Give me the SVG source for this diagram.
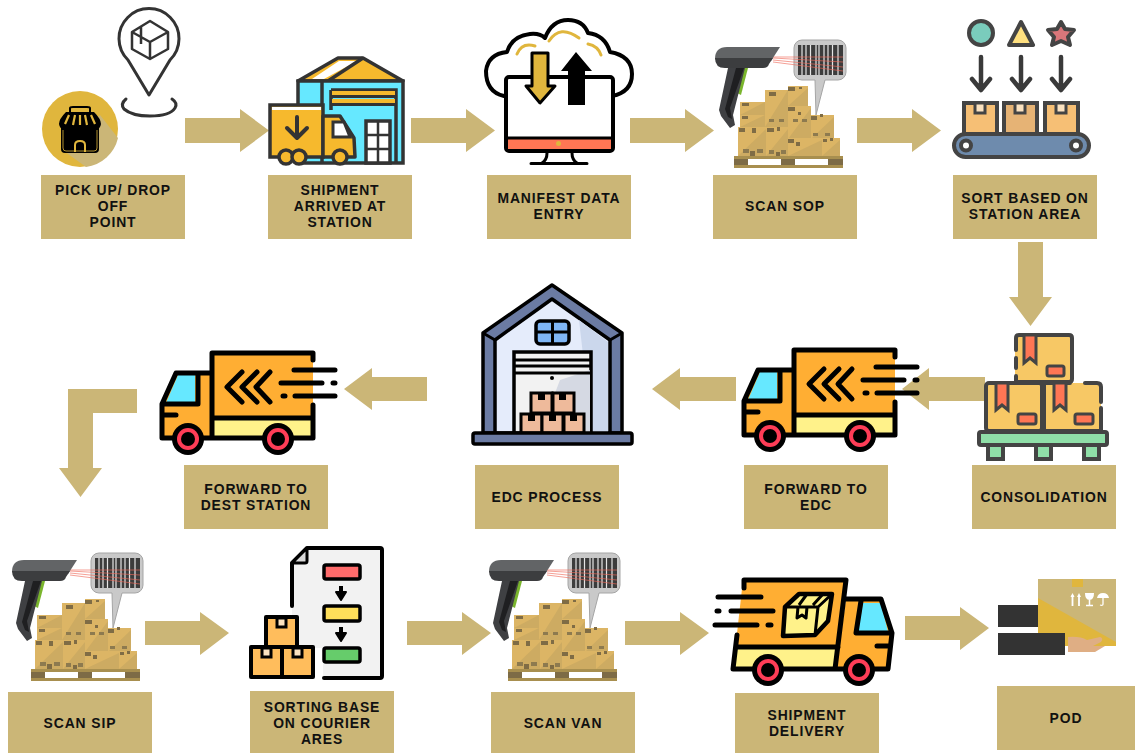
<svg xmlns="http://www.w3.org/2000/svg" width="1135" height="753" viewBox="0 0 1135 753">
<style>
.lb{fill:#cbb677}
.ar{fill:#cbb677}
text{font-family:"Liberation Sans",Arial,sans-serif;font-weight:700;font-size:13.900px;letter-spacing:.9px;fill:#111;text-anchor:middle}
.k{stroke:#000;stroke-linecap:round;stroke-linejoin:round;fill:none}
.g{stroke:#444;stroke-linecap:round;stroke-linejoin:round}
.d{stroke:#3a3a3a;stroke-linecap:round;stroke-linejoin:round;fill:none}
.bx{fill:#dcb565}
.sh{fill:#cdab62}
.tp{fill:#7f6c45}
</style>
<defs>
<g id="scanner">
<g id="boxes">
<rect class="bx" x="37" y="615" width="25" height="13"/><path class="sh" d="M37 628L62 615V628Z"/>
<rect class="bx" x="37" y="628" width="25" height="12"/><path class="sh" d="M37 640L62 628V640Z"/>
<rect class="bx" x="62" y="603" width="23" height="37"/><path class="sh" d="M62 640L85 603V640Z"/>
<rect class="bx" x="85" y="599" width="20" height="20"/><path class="sh" d="M85 619L105 601V619Z"/>
<rect class="bx" x="85" y="619" width="23" height="33"/><path class="sh" d="M85 652L108 621V652Z"/>
<rect class="bx" x="108" y="628" width="23" height="24"/><path class="sh" d="M108 652L131 630V652Z"/>
<rect class="bx" x="35" y="640" width="28" height="29"/><path class="sh" d="M35 669L63 642V669Z"/>
<rect class="bx" x="63" y="640" width="22" height="29"/><path class="sh" d="M63 669L85 642V669Z"/>
<rect class="bx" x="85" y="651" width="34" height="18"/><path class="sh" d="M85 669L119 653V669Z"/>
<rect class="bx" x="119" y="651" width="18" height="18"/><path class="sh" d="M119 669L137 653V669Z"/>
<path class="tp" d="M39 616h7v3h-7zM39 629h6v3h-6zM66 605h7v4h-7zM85 600h7v4h-7zM85 620h7v4h-7zM108 629h6v4h-6zM36 641h6v4h-6zM64 641h7v4h-7zM85 652h6v4h-6zM120 652h4v3h-4zM47 664h5v5h-5zM73 665h4v4h-4zM93 655h4v4h-4zM127 651h3v3h-3zM49 641h4v5h-4zM74 640h3v4h-3zM96 600h3v2h-3zM95 625h3v3h-3zM117 627h3v3h-3z"/>
<path d="M40 662h6v4h-6zM54 662h6v4h-6zM66 663h5v4h-5zM78 663h5v4h-5zM90 632h5v3h-5zM99 632h5v3h-5zM110 646h5v3h-5zM122 646h5v3h-5zM66 632h5v3h-5zM76 632h5v3h-5z" fill="#8d7a4f"/>
<rect x="31" y="669" width="109" height="3" fill="#a88f4f"/>
<rect x="31" y="678" width="109" height="3" fill="#a88f4f"/>
<rect x="31" y="672" width="14" height="6" fill="#7d6b46"/>
<rect x="78" y="672" width="14" height="6" fill="#7d6b46"/>
<rect x="125" y="672" width="15" height="6" fill="#7d6b46"/>
</g>
<path d="M91 561a8 8 0 0 1 8-8h36a8 8 0 0 1 8 8v24a8 8 0 0 1-8 8h-13l-9 35-1-35H99a8 8 0 0 1-8-8Z" fill="#c9c9c9" stroke="#a5a5a5"/>
<path d="M95 558h45v30H95z" fill="#3c3c3c"/>
<path d="M99 558v30M103 558v30M107.500 558v30M113 558v30M116 558v30M121 558v30M125 558v30M129.500 558v30M135 558v30" stroke="#e4e4e4" stroke-width="1.200"/>
<path d="M70 570L140 570M70 571L140 575M70 573L140 580M70 575L140 584" stroke="#ef6a5a" stroke-width=".8" fill="none" opacity=".8"/>
<path d="M45 581L38 608L34 606L41 581Z" fill="#7ab52d"/>
<path d="M25 581H42L30 628L32 638L27 641L18 629L16 623Z" fill="#3f4043"/>
<path d="M33 581H41L27 621L29 632L25 630L22 622Z" fill="#1f1f21"/>
<path d="M12 572Q12 560 24 560H77L68 574H15Z" fill="#626466"/>
<path d="M12 571H70L66 577Q65 581 60 581H22Q12 581 12 571Z" fill="#3c3d3f"/>
</g>
<g id="truck">
<path d="M213 353H313V438H213Z" fill="#ffae33"/>
<path d="M213 420H312V438H213Z" fill="#fff28a"/>
<path d="M162 438V404L176 373H213V438Z" fill="#ffae33"/>
<path d="M166 403L178 375H195V403Z" fill="#66e8ff"/>
<path class="k" stroke-width="5" d="M212 373V353H313V360M313 405V438H162V404L176 373H212V438M213 418H313M162 404H198V373M162 415H176"/>
<path class="k" stroke-width="5" d="M242 372L227 387L242 402M257 372L242 387L257 402M270 372L256 387L270 402"/>
<path class="k" stroke-width="5" d="M294 370H335M281 383H322M333 383H335M283 396H285M295 396H335"/>
<circle cx="188" cy="439" r="16" fill="#000"/><circle cx="188" cy="439" r="11" fill="#ff3d57"/><circle cx="188" cy="439" r="7" fill="#000"/>
<circle cx="278" cy="439" r="16" fill="#000"/><circle cx="278" cy="439" r="11" fill="#ff3d57"/><circle cx="278" cy="439" r="7" fill="#000"/>
</g>
</defs>
<g id="connectors">
<path class="ar" d="M185 118H240V109L269 130.500L240 152V143H185Z"/>
<path class="ar" d="M411 118H466V109L495 130.500L466 152V143H411Z"/>
<path class="ar" d="M630 118H685V109L714 130.500L685 152V143H630Z"/>
<path class="ar" d="M857 118H912V109L941 130.500L912 152V143H857Z"/>
<path class="ar" d="M1018 242H1043V297H1052L1030.500 326L1009 297H1018Z"/>
<path class="ar" d="M985 377H929V368L902 389L929 410V401H985Z"/>
<path class="ar" d="M736 377H680V368L652 389L680 410V401H736Z"/>
<path class="ar" d="M427 377H372V368L344 389L372 410V401H427Z"/>
<path class="ar" d="M137 389H68V468H59L80.500 497L102 468H93V413H137Z"/>
<path class="ar" d="M145 621H200V612L229 633L200 655V645H145Z"/>
<path class="ar" d="M407 621H462V612L491 633L462 655V645H407Z"/>
<path class="ar" d="M625 621H680V612L709 633L680 655V645H625Z"/>
<path class="ar" d="M905 616H960V607L989 628L960 650V640H905Z"/>
</g>
<g id="n-pickup">
<circle cx="80" cy="129" r="38" fill="#e0b63d"/>
<path d="M64 151L100 115L118 138A38 38 0 0 1 86 167Z" fill="#cbb677"/>
<rect x="61" y="122" width="38" height="31" rx="4" fill="#000"/>
<path d="M70 108Q70 107 73 107H87Q90 107 90 108V113H70Z" fill="none" stroke="#000" stroke-width="2"/>
<path d="M66 112H94Q101 119 101 124Q100 131 93 129Q86 131 80 128Q74 131 67 129Q60 131 59 124Q59 119 66 112Z" fill="#000"/>
<path d="M69 115L65 124M75 115L73 125M85 115L87 125M91 115L95 124M80 115V125" stroke="#e0b63d" stroke-width="2.200" fill="none"/>
<path d="M75 152V145Q75 141 80 141Q85 141 85 145V152" fill="none" stroke="#e0b63d" stroke-width="2"/>
<path d="M63 130V148Q63 151 66 151H94Q97 151 97 148V130" fill="none" stroke="#e0b63d" stroke-width=".8"/>
<path d="M149 95L128 60A30 30 0 1 1 170 60Z" fill="#fff" stroke="#333" stroke-width="3" stroke-linejoin="round"/>
<path d="M126 99Q120 104 124 109Q132 116 150 116Q170 116 175 108Q178 103 172 99" fill="none" stroke="#333" stroke-width="3" stroke-linecap="round"/>
<path d="M132 32L150 21L168 32V49L150 59L132 49ZM132 32L150 42L168 32M150 42V59M141 27L141 44" fill="none" stroke="#333" stroke-width="2.500" stroke-linejoin="round"/>
<rect class="lb" x="41" y="175" width="144" height="64"/>
<text x="113" y="195">PICK UP/ DROP</text><text x="113" y="211">OFF</text><text x="113" y="227">POINT</text>
</g>
<g id="n-arrived">
<path d="M298 81L338 58H363L403 81Z" fill="#f6b92d" stroke="#333" stroke-width="3.500" stroke-linejoin="round"/>
<path d="M312 79L339 61H357L324 79Z" fill="#fff"/>
<path d="M328 81L363 58" stroke="#333" stroke-width="3.500"/>
<rect x="298" y="81" width="105" height="82" fill="#66e8ff" stroke="#333" stroke-width="3.500"/>
<path d="M322 81V163" stroke="#333" stroke-width="3.500"/>
<path d="M331 90H396V163" fill="none" stroke="#333" stroke-width="3.500"/><path d="M331 90V110" stroke="#333" stroke-width="3.500"/>
<rect x="332" y="91" width="63" height="4" fill="#f6b92d"/><rect x="332" y="99" width="63" height="4" fill="#f6b92d"/>
<path d="M331 96.500H396M331 104.500H396" stroke="#333" stroke-width="3"/>
<rect x="366" y="121" width="24" height="42" fill="#fff" stroke="#333" stroke-width="3.500"/>
<path d="M378 121V163M366 135H390M366 149H390" stroke="#333" stroke-width="2.500"/>
<rect x="270" y="105" width="53" height="52" fill="#f6b92d" stroke="#333" stroke-width="3.500"/>
<rect x="272" y="107" width="49" height="3" fill="#fff"/>
<path d="M323 116H340L354 138L355 157H323Z" fill="#f6b92d" stroke="#333" stroke-width="3.500" stroke-linejoin="round"/>
<path d="M333 122H344L350 137H333Z" fill="#fff" stroke="#333" stroke-width="3"/>
<path d="M297 117V138M287 128L297 138L307 128" fill="none" stroke="#333" stroke-width="4" stroke-linecap="round" stroke-linejoin="round"/>
<circle cx="286" cy="157" r="7" fill="#f6b92d" stroke="#333" stroke-width="3.500"/><circle cx="299" cy="157" r="7" fill="#f6b92d" stroke="#333" stroke-width="3.500"/><circle cx="340" cy="157" r="7" fill="#f6b92d" stroke="#333" stroke-width="3.500"/>
<rect class="lb" x="268" y="175" width="144" height="64"/>
<text x="340" y="195">SHIPMENT</text><text x="340" y="211">ARRIVED AT</text><text x="340" y="227">STATION</text>
</g>
<g id="n-manifest">
<path d="M504 96Q486 92 486 71Q488 54 507 52Q512 36 530 34Q540 33 545 38Q552 20 568 20Q583 20 588 33Q605 35 610 52Q632 56 632 74Q632 92 612 96Z" fill="#fff" stroke="#000" stroke-width="4" stroke-linejoin="round"/>
<path d="M517 54Q522 42 535 46M549 41Q560 24 579 38M588 44Q598 46 601 55" fill="none" stroke="#e0b63d" stroke-width="3" stroke-linecap="round"/>
<rect x="506" y="77" width="107" height="74" rx="3" fill="#fff" stroke="#000" stroke-width="4"/>
<rect x="508" y="139" width="103" height="10" fill="#ff7654"/><path d="M506 138H613" stroke="#000" stroke-width="3"/>
<circle cx="558.500" cy="143.500" r="2.500" fill="#e0b63d"/>
<path d="M547 153Q547 160 542 163M572 153Q572 160 577 163M531 163.500H587" fill="none" stroke="#000" stroke-width="3" stroke-linecap="round"/>
<path d="M532 53H548V86H555L540 103L526 86H532Z" fill="#e0b63d" stroke="#000" stroke-width="3" stroke-linejoin="round"/>
<path d="M576 52L592 71H585V105H568V71H561Z" fill="#000"/>
<rect class="lb" x="487" y="175" width="144" height="64"/>
<text x="559" y="203">MANIFEST DATA</text><text x="559" y="219">ENTRY</text>
</g>
<g id="n-scansop">
<use href="#scanner" x="703" y="-513"/>
<rect class="lb" x="713" y="175" width="144" height="64"/>
<text x="785" y="211">SCAN SOP</text>
</g>
<g id="n-sort">
<circle cx="981" cy="33" r="12" fill="#7accbc" stroke="#444" stroke-width="4"/>
<path d="M1021 22L1033 45H1009Z" fill="#ffe07f" stroke="#444" stroke-width="4" stroke-linejoin="round"/>
<path d="M1061 22L1065 29L1074 30L1068 37L1070 45L1061 41L1052 45L1054 37L1048 30L1057 29Z" fill="#d9767a" stroke="#444" stroke-width="4" stroke-linejoin="round"/>
<g class="d" stroke-width="4.500" stroke="#444"><path d="M981 57V89M972 79L981 90L990 79M1021 57V89M1012 79L1021 90L1030 79M1061 57V89M1052 79L1061 90L1070 79"/></g>
<rect x="964" y="103" width="33" height="31" fill="#f6bf75" stroke="#444" stroke-width="4"/>
<rect x="1004" y="103" width="33" height="31" fill="#e6b375" stroke="#444" stroke-width="4"/>
<rect x="1045" y="103" width="33" height="31" fill="#f6bf75" stroke="#444" stroke-width="4"/>
<g fill="#fbe2c0" stroke="#444" stroke-width="3"><rect x="975" y="103" width="10" height="10"/><rect x="1015" y="103" width="10" height="10"/><rect x="1056" y="103" width="10" height="10"/></g>
<rect x="954" y="134" width="135" height="23" rx="11.500" fill="#6e8bad" stroke="#444" stroke-width="4"/>
<circle cx="966" cy="145.500" r="5" fill="#fff" stroke="#444" stroke-width="4"/><circle cx="1076" cy="145.500" r="5" fill="#fff" stroke="#444" stroke-width="4"/>
<rect class="lb" x="953" y="175" width="144" height="64"/>
<text x="1025" y="203">SORT BASED ON</text><text x="1025" y="219">STATION AREA</text>
</g>
<g id="n-consol">
<rect x="1015" y="335" width="57" height="47" rx="4" fill="#f7c865"/>
<path d="M1016 350V338Q1016 335 1019 335H1069Q1072 335 1072 338V379Q1072 382 1069 382H1016V376M1016 358V368" fill="none" stroke="#444" stroke-width="4" stroke-linecap="round"/>
<path d="M1024 335H1036V363L1030 358L1024 363Z" fill="#ff7654" stroke="#444" stroke-width="3"/>
<rect x="1047" y="366" width="17" height="10" rx="2" fill="#ff7654" stroke="#444" stroke-width="3"/>
<rect x="986" y="383" width="56" height="48" rx="3" fill="#f7c865" stroke="#444" stroke-width="4"/>
<rect x="1044" y="383" width="57" height="48" rx="3" fill="#f7c865"/>
<path d="M1070 383H1044V431H1101V408M1085 383H1097Q1101 383 1101 387V402" fill="none" stroke="#444" stroke-width="4" stroke-linecap="round"/>
<path d="M996 383H1008V410L1002 405L996 410Z" fill="#ff7654" stroke="#444" stroke-width="3"/>
<path d="M1054 383H1066V410L1060 405L1054 410Z" fill="#ff7654" stroke="#444" stroke-width="3"/>
<rect x="1018" y="414" width="18" height="10" rx="2" fill="#ff7654" stroke="#444" stroke-width="3"/>
<rect x="1075" y="414" width="18" height="10" rx="2" fill="#ff7654" stroke="#444" stroke-width="3"/>
<rect x="988" y="445" width="15" height="14" fill="#8fdfa8" stroke="#444" stroke-width="4"/>
<rect x="1036" y="445" width="15" height="14" fill="#8fdfa8" stroke="#444" stroke-width="4"/>
<rect x="1084" y="445" width="15" height="14" fill="#8fdfa8" stroke="#444" stroke-width="4"/>
<rect x="979" y="432" width="128" height="13" rx="2" fill="#8fdfa8" stroke="#444" stroke-width="4"/>
<rect class="lb" x="972" y="465" width="144" height="64"/>
<text x="1044" y="502">CONSOLIDATION</text>
</g>
<g id="n-edc-truck">
<use href="#truck" x="582" y="-3"/>
<rect class="lb" x="744" y="465" width="144" height="64"/>
<text x="816" y="494">FORWARD TO</text><text x="816" y="510">EDC</text>
</g>
<g id="n-edc">
<path d="M483 333L552 285L622 333V433H483Z" fill="#6b7ba3" stroke="#000" stroke-width="3.500" stroke-linejoin="round"/>
<path d="M495 340L552 299L610 340V433H495Z" fill="#e5ecfb" stroke="#000" stroke-width="3.500" stroke-linejoin="round"/>
<path d="M579 320L608 342V432H591V355H583Z" fill="#cbd7ec"/>
<path d="M483 333L495 340M622 333L610 340" stroke="#000" stroke-width="3"/>
<rect x="536" y="321" width="33" height="23" rx="4" fill="#7fb6f5" stroke="#000" stroke-width="3.500"/>
<path d="M552.500 321V344M536 332H569" stroke="#000" stroke-width="3"/>
<rect x="514" y="352" width="77" height="81" fill="#f2f2f2" stroke="#000" stroke-width="3.500"/>
<path d="M560 380L590 370V432H540Z" fill="#d5d9e3"/>
<path d="M514 360H591M514 366H591M514 373H591" stroke="#000" stroke-width="3"/>
<circle cx="552" cy="378" r="2" fill="#000"/>
<g fill="#eeba9b" stroke="#000" stroke-width="3"><rect x="531" y="393" width="21" height="20"/><rect x="553" y="393" width="21" height="20"/><rect x="521" y="414" width="21" height="19"/><rect x="542" y="414" width="21" height="19"/><rect x="564" y="414" width="20" height="19"/></g>
<path d="M539 393v6h5v-6M560 393v6h5v-6M529 414v6h5v-6M550 414v6h5v-6M571 414v6h5v-6" fill="#000" stroke="#000" stroke-width="2"/>
<rect x="473" y="433" width="159" height="11" rx="2" fill="#6b7ba3" stroke="#000" stroke-width="3.500"/>
<rect class="lb" x="475" y="465" width="144" height="64"/>
<text x="547" y="502">EDC PROCESS</text>
</g>
<g id="n-dest-truck">
<use href="#truck"/>
<rect class="lb" x="184" y="465" width="144" height="64"/>
<text x="256" y="494">FORWARD TO</text><text x="256" y="510">DEST STATION</text>
</g>
<g id="n-scansip">
<use href="#scanner"/>
<rect class="lb" x="8" y="692" width="144" height="61"/>
<text x="80" y="728">SCAN SIP</text>
</g>
<g id="n-sorting">
<path d="M307 548H380Q382 548 382 550V676Q382 678 380 678H323V648H292V563Z" fill="#f2f2f2"/>
<path d="M292 606V563L307 548H380Q382 548 382 550V676Q382 678 380 678H324" class="k" stroke-width="4"/>
<path d="M292 563H305Q307 563 307 561V548Z" fill="#d9d9d9" stroke="#000" stroke-width="3" stroke-linejoin="round"/>
<rect x="324" y="565" width="36" height="14" rx="2" fill="#ff6b6b" stroke="#000" stroke-width="3.500"/>
<rect x="324" y="606" width="36" height="15" rx="2" fill="#ffdf5a" stroke="#000" stroke-width="3.500"/>
<rect x="324" y="648" width="36" height="14" rx="2" fill="#66cc6b" stroke="#000" stroke-width="3.500"/>
<path d="M340 586V596M342 586V596M336 592H346L341 600Z" fill="#000" stroke="#000" stroke-width="2" stroke-linejoin="round"/>
<path d="M340 627V637M342 627V637M336 633H346L341 641Z" fill="#000" stroke="#000" stroke-width="2" stroke-linejoin="round"/>
<g fill="#ffbd5c" stroke="#000" stroke-width="4" stroke-linejoin="round"><rect x="266" y="617" width="31" height="30"/><rect x="251" y="647" width="31" height="30"/><rect x="282" y="647" width="31" height="30"/></g>
<g fill="#fbe2c0" stroke="#000" stroke-width="3"><rect x="277" y="618" width="9" height="9"/><rect x="262" y="648" width="9" height="9"/><rect x="293" y="648" width="9" height="9"/></g>
<rect class="lb" x="250" y="691" width="144" height="62"/>
<text x="322" y="712">SORTING BASE</text><text x="322" y="728">ON COURIER</text><text x="322" y="744">ARES</text>
</g>
<g id="n-scanvan">
<use href="#scanner" x="477"/>
<rect class="lb" x="491" y="692" width="144" height="61"/>
<text x="563" y="728">SCAN VAN</text>
</g>
<g id="n-delivery">
<path d="M743 580H846L836 669H733Z" fill="#ffae33"/>
<path d="M736 648H838L835 669H733Z" fill="#fff28a"/>
<path d="M846 599H882L893 633L888 669H836Z" fill="#ffae33"/>
<path d="M863 603H881L888 632H858Z" fill="#66e8ff"/>
<path class="k" stroke-width="5" d="M744 588V580H846L835 669H733L737 635M737 647H838M845 599H881L892 633L888 669H836M861 601L856 633H892M877 646H890"/>
<path class="k" stroke-width="5" d="M718 597H761M717 611H719M731 611H773M715 625H757M768 625H771"/>
<path d="M799 594H832L828 621L815 635L783 636L785 607Z" fill="#fff28a" stroke="#000" stroke-width="4.500" stroke-linejoin="round"/>
<path d="M785 607H818L832 594M818 607L815 635M798 607L797 618L802 615L806 618L807 607M807 594L799 605M823 594L813 605" fill="none" stroke="#000" stroke-width="3" stroke-linejoin="round"/>
<circle cx="768" cy="670" r="16" fill="#000"/><circle cx="768" cy="670" r="11" fill="#ff3d57"/><circle cx="768" cy="670" r="7" fill="#000"/>
<circle cx="859" cy="670" r="16" fill="#000"/><circle cx="859" cy="670" r="11" fill="#ff3d57"/><circle cx="859" cy="670" r="7" fill="#000"/>
<rect class="lb" x="735" y="693" width="144" height="60"/>
<text x="807" y="720">SHIPMENT</text><text x="807" y="736">DELIVERY</text>
</g>
<g id="n-pod">
<rect x="1038" y="579" width="78" height="67" fill="#cbb677"/>
<rect x="1072" y="579" width="11" height="8" fill="#e0b63d"/>
<path d="M1038 598L1116 642V646H1038Z" fill="#e0b63d"/>
<path d="M1072.500 606V595M1079 606V595" stroke="#fff" stroke-width="1.800" fill="none"/>
<path d="M1070.500 597L1072.500 593L1074.500 597ZM1077 597L1079 593L1081 597Z" fill="#fff"/>
<path d="M1085 593H1094Q1094 600 1089.500 600Q1085 600 1085 593Z" fill="#fff"/>
<path d="M1089.500 600V605M1086 605.500H1093" stroke="#fff" stroke-width="1.500" fill="none"/>
<path d="M1097 598Q1098 593 1103 593Q1108 593 1109 598Z" fill="#fff"/>
<path d="M1103 598V604Q1103 606 1100 605" stroke="#fff" stroke-width="1.300" fill="none"/>
<rect x="998" y="605" width="40" height="22" fill="#333"/>
<rect x="998" y="633" width="67" height="22" fill="#333"/>
<path d="M1068 637Q1080 636 1087 640L1100 637Q1104 638 1101 642L1093 646H1105L1095 652H1068Z" fill="#dfae84"/>
<rect class="lb" x="997" y="686" width="138" height="64"/>
<text x="1066" y="723">POD</text>
</g>
</svg>
